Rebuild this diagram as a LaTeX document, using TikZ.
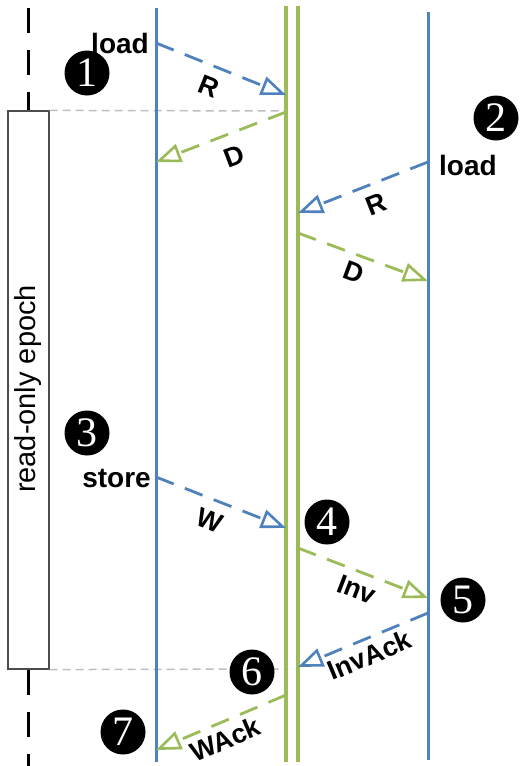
\documentclass[tikz,border=0pt]{standalone}
\usepackage{fontspec}
\setmainfont{Liberation Sans}
\newfontfamily\numfont{Liberation Serif}
\usetikzlibrary{arrows.meta}
\definecolor{lblue}{RGB}{79,129,189}
\definecolor{lgreen}{RGB}{155,187,89}
\tikzset{
  lane/.style={line width=3pt},
  msg/.style={line width=2.8pt, dash pattern=on 19pt off 12pt,
    -{Triangle[open,length=25pt,width=19pt,line width=2.6pt]}},
  lbl/.style={text=black, font=\fontsize{27}{27}\selectfont\bfseries, sloped, inner sep=1pt},
  stepnum/.style={circle, fill=black, minimum size=45pt, inner sep=0pt,
    text=white, font=\numfont\fontsize{42}{42}\selectfont},
  optext/.style={font=\fontsize{28}{28}\selectfont\bfseries, inner sep=0pt},
  epochline/.style={line width=3pt, dash pattern=on 25pt off 17pt},
  guide/.style={gray!50, line width=1.5pt, dash pattern=on 8pt off 5pt}
}
\begin{document}
\begin{tikzpicture}[x=1pt,y=-1pt]
\useasboundingbox (0,0) rectangle (521,766);
% epoch
\node[draw=black!70, line width=1.2pt, minimum width=41pt, minimum height=558pt, inner sep=0pt] (box) at (28.5,390) {};
\node[rotate=90, font=\fontsize{29}{29}\selectfont] (ep) at (28.5,389) {read-only epoch};
\coordinate (et) at (28.5,8);
\coordinate (eb) at (28.5,766);
\draw[epochline] (et) -- (box.north);
\draw[epochline] (box.south) -- (eb);
% lanes
\coordinate (bl1) at (156,8);   \coordinate (bl2) at (156,762);
\coordinate (ga1) at (286,6);   \coordinate (ga2) at (286,762);
\coordinate (gb1) at (298,6);   \coordinate (gb2) at (298,762);
\coordinate (br1) at (428,12);  \coordinate (br2) at (428,760);
\coordinate (g1) at (286,111); \coordinate (g2) at (286,669);
\draw[guide] (box.north east) -- (g1);
\draw[guide] (box.south east) -- (g2);
\draw[lane, lblue] (bl1) -- (bl2);
\draw[lane, lblue] (br1) -- (br2);
\draw[lane, lgreen, line width=4.5pt] (ga1) -- (ga2);
\draw[lane, lgreen, line width=4.5pt] (gb1) -- (gb2);
% message endpoints
\coordinate (a1) at (156,43);  \coordinate (a2) at (286,95);
\coordinate (b1) at (286,112); \coordinate (b2) at (156,162);
\coordinate (c1) at (428,162); \coordinate (c2) at (298,213);
\coordinate (d1) at (298,233); \coordinate (d2) at (428,281);
\coordinate (e1) at (156,477); \coordinate (e2) at (286,528);
\coordinate (f1) at (298,548); \coordinate (f2) at (428,598);
\coordinate (h1) at (428,613); \coordinate (h2) at (298,667);
\coordinate (k1) at (286,695); \coordinate (k2) at (156,750);
\draw[msg, lblue] (a1) -- node[lbl, pos=0.47, below=9pt] (lR1) {R} (a2);
\draw[msg, lgreen] (b1) -- node[lbl, pos=0.46, below=11pt] (lD1) {D} (b2);
\draw[msg, lblue] (c1) -- node[lbl, pos=0.46, below=9pt] (lR2) {R} (c2);
\draw[msg, lgreen] (d1) -- node[lbl, pos=0.48, below=6pt] (lD2) {D} (d2);
\draw[msg, lblue] (e1) -- node[lbl, pos=0.47, below=9pt] (lW) {W} (e2);
\draw[msg, lgreen] (f1) -- node[lbl, pos=0.5, below=6pt] (lInv) {Inv} (f2);
\draw[msg, lblue] (h1) -- node[lbl, pos=0.5, below=4pt] (lIA) {InvAck} (h2);
\draw[msg, lgreen] (k1) -- node[lbl, pos=0.52, below=5pt] (lWA) {WAck} (k2);
% operation texts
\node[optext, anchor=east] (ld1) at (149,43) {load};
\node[optext, anchor=west] (ld2) at (439,165) {load};
\node[optext, anchor=east] (st) at (151,478) {store};
% step numbers
\node[stepnum] (n1) at (87,73) {1};
\node[stepnum] (n2) at (496,118) {2};
\node[stepnum] (n3) at (87,433) {3};
\node[stepnum] (n4) at (327,522) {4};
\node[stepnum] (n5) at (463,600) {5};
\node[stepnum] (n6) at (252,672) {6};
\node[stepnum] (n7) at (123,732) {7};
\end{tikzpicture}
\end{document}
